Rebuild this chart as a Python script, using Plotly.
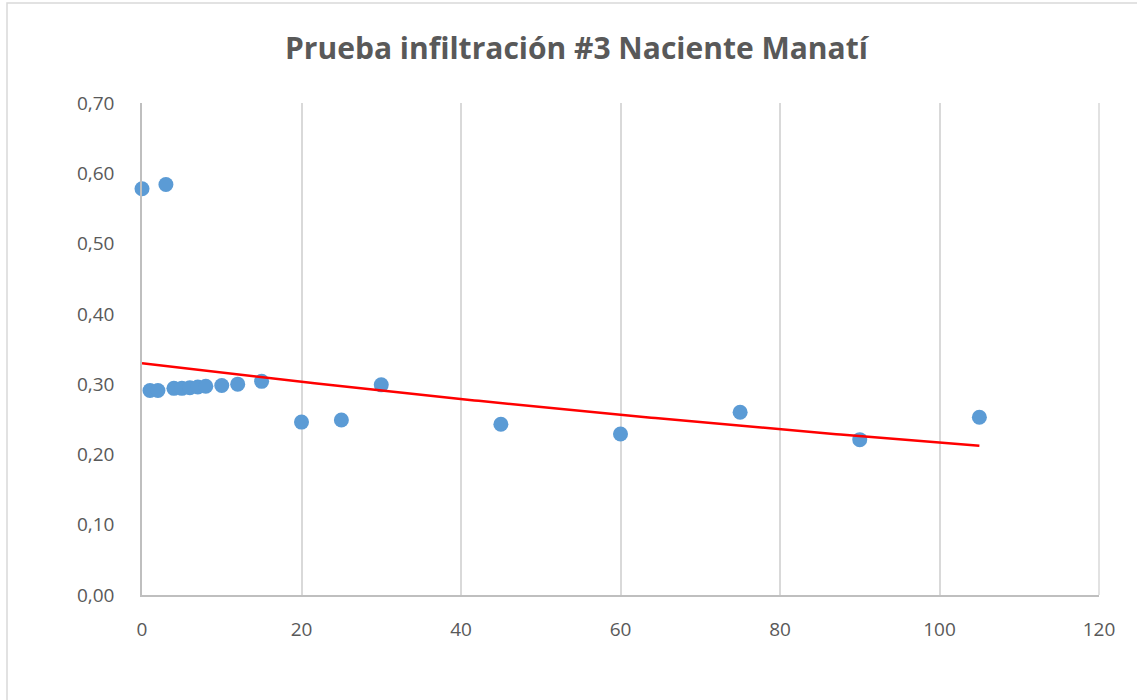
import numpy as np
import plotly.graph_objects as go

# Tiempo (min) y tasa de infiltración medida
tiempo = [0, 1, 2, 3, 4, 5, 6, 7, 8, 10, 12, 15, 20, 25, 30, 45, 60, 75, 90, 105]
infiltracion = [0.578, 0.291, 0.291, 0.584, 0.294, 0.294, 0.295, 0.296, 0.297,
                0.298, 0.300, 0.304, 0.246, 0.249, 0.299, 0.243, 0.229, 0.260,
                0.221, 0.253]

x_ticks = [0, 20, 40, 60, 80, 100, 120]
y_ticks = [0.0, 0.1, 0.2, 0.3, 0.4, 0.5, 0.6, 0.7]

# Línea de tendencia exponencial y = a·e^(b·x), ajustada por mínimos cuadrados en ln(y)
t = np.array(tiempo, dtype=float)
f = np.array(infiltracion, dtype=float)
b, ln_a = np.polyfit(t, np.log(f), 1)
x_fit = np.linspace(t.min(), t.max(), 200)
y_fit = np.exp(ln_a) * np.exp(b * x_fit)

text_color = "#595959"
font_family = "Open Sans, Noto Sans, sans-serif"

fig = go.Figure()
fig.add_trace(go.Scatter(
    x=tiempo, y=infiltracion, mode="markers",
    marker=dict(color="#5b9bd5", size=15, line=dict(width=0)),
    showlegend=False, cliponaxis=False,
))
fig.add_trace(go.Scatter(
    x=x_fit, y=y_fit, mode="lines",
    line=dict(color="#ff0000", width=2.5),
    showlegend=False,
))

fig.update_layout(
    width=1137, height=700,
    margin=dict(l=142, r=38, t=103, b=105),
    paper_bgcolor="white", plot_bgcolor="white",
    separators=",.",
    title=dict(
        text="<b>Prueba infiltración #3 Naciente Manatí</b>",
        x=0.507, xref="container", y=1 - 48 / 700, yref="container",
        xanchor="center", yanchor="middle",
        font=dict(family=font_family, size=30, color=text_color),
    ),
    xaxis=dict(
        range=[0, 120], tickvals=x_ticks, showgrid=True, gridcolor="#d9d9d9",
        gridwidth=1.5, zeroline=False, showline=True, linecolor="#bfbfbf",
        linewidth=1.5, ticks="", ticklabelstandoff=16,
        tickfont=dict(family=font_family, size=19, color=text_color),
    ),
    yaxis=dict(
        range=[0, 0.70], tickvals=y_ticks, tickformat=".2f", showgrid=False,
        zeroline=False, showline=True, linecolor="#bfbfbf", linewidth=1.5,
        ticks="", ticklabelstandoff=22,
        tickfont=dict(family=font_family, size=19, color=text_color),
    ),
    shapes=[
        # borde derecho del área de trazado
        dict(type="line", xref="paper", yref="paper", x0=1, x1=1, y0=0, y1=1,
             line=dict(color="#d9d9d9", width=1.5), layer="below"),
        # marco exterior del gráfico
        dict(type="rect", xref="paper", yref="paper",
             x0=(7 - 142) / 957, x1=(1160 - 142) / 957,
             y0=(595 - 720) / 492, y1=(595 - 3) / 492,
             line=dict(color="#d9d9d9", width=1.5), fillcolor="rgba(0,0,0,0)",
             layer="below"),
    ],
)

fig.write_html("out.html")
